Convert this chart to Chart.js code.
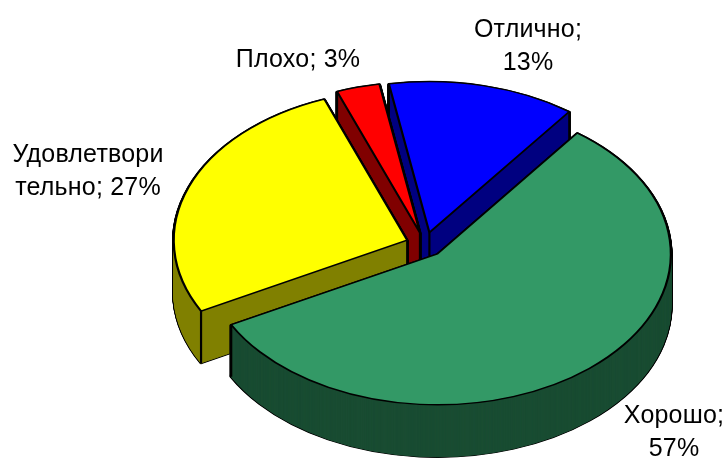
<!DOCTYPE html>
<html lang="ru">
<head>
    <meta charset="UTF-8">
    <title>Оценки</title>
    <script src="https://cdn.jsdelivr.net/npm/chart.js"></script>
    <style>
        html, body { margin: 0; background: #fff; }
        canvas { display: block; }
    </style>
</head>
<body>
    <canvas id="chart" width="725" height="458"></canvas>

<script>
    const categories = ['Отлично', 'Хорошо', 'Удовлетворительно', 'Плохо']
    const values = [13, 57, 27, 3]
    const topColors = ['#0000ff', '#339966', '#ffff00', '#ff0000']
    const sideColors = ['#000080', '#1a4d33', '#808000', '#800000']
    // text of the data labels, wrapped the same way as in the picture
    const labelLines = [['Отлично;', '13%'], ['Хорошо;', '57%'], ['Удовлетвори', 'тельно; 27%'], ['Плохо; 3%']]
    const labelX = [528, 674, 88, 298]
    const labelY = [30, 416, 155, 60]

    // how the flat pie is turned into the tilted one
    const centerX = 425, centerY = 244.5
    const radiusX = 233.5, radiusY = 151
    const explode = 19
    const depth = 52
    const lineWidth = 2.2
    const drawOrder = [0, 3, 2, 1]

    function drawArc(ctx, arc, d, color, border, borderColor) {
        const r = arc.outerRadius
        const half = (arc.startAngle + arc.endAngle) / 2
        const e = explode / radiusX * r
        ctx.save()
        ctx.translate(centerX, centerY + d)
        ctx.scale(radiusX / r, radiusY / r)
        ctx.translate(-arc.x + Math.cos(half) * e, -arc.y + Math.sin(half) * e)
        const flat = Object.create(arc)
        flat.options = {...arc.options, offset: 0, backgroundColor: color, borderColor: borderColor, borderWidth: border, borderJoinStyle: 'round'}
        Chart.ArcElement.prototype.draw.call(flat, ctx)
        ctx.restore()
    }

    function drawEdges(ctx, arc) {
        const half = (arc.startAngle + arc.endAngle) / 2
        const ox = centerX + Math.cos(half) * explode
        const oy = centerY + Math.sin(half) * explode * radiusY / radiusX
        const points = [[ox, oy]]
        for (const a of [arc.startAngle, arc.endAngle]) {
            points.push([ox + Math.cos(a) * radiusX, oy + Math.sin(a) * radiusY])
        }
        ctx.save()
        ctx.strokeStyle = '#000'
        ctx.lineWidth = lineWidth
        for (const p of points) {
            ctx.beginPath()
            ctx.moveTo(p[0], p[1])
            ctx.lineTo(p[0], p[1] + depth)
            ctx.stroke()
        }
        ctx.restore()
    }

    const tiltedPie = {
        id: 'tiltedPie',
        beforeDatasetDraw(chart) {
            const ctx = chart.ctx
            const arcs = chart.getDatasetMeta(0).data
            for (const i of drawOrder) {
                const arc = arcs[i]
                for (let d = depth; d > 0; d -= 0.5) drawArc(ctx, arc, d, '#000', lineWidth + 1, '#000')
                for (let d = depth; d > 0; d -= 0.5) drawArc(ctx, arc, d, sideColors[i], 1, sideColors[i])
                drawEdges(ctx, arc)
                drawArc(ctx, arc, 0, topColors[i], lineWidth, '#000')
            }
            return false
        },
        afterDraw(chart) {
            const ctx = chart.ctx
            ctx.save()
            ctx.fillStyle = '#000'
            ctx.font = '25px "Liberation Sans"'
            ctx.letterSpacing = '0.2px'
            ctx.textAlign = 'center'
            ctx.textBaseline = 'middle'
            labelLines.forEach((lines, i) => {
                lines.forEach((line, n) => {
                    ctx.fillText(line, labelX[i], labelY[i] + n * 33)
                })
            })
            ctx.restore()
        }
    }

    var pie = new Chart(document.getElementById('chart'), {
        type: 'pie',
        data: {
            labels: categories,
            datasets: [{
                data: values,
                backgroundColor: topColors
            }]
        },
        options: {
            responsive: false,
            animation: false,
            events: [],
            rotation: -10,
            plugins: {
                legend: { display: false },
                tooltip: { enabled: false }
            }
        },
        plugins: [tiltedPie]
    })
</script>
</body>
</html>
